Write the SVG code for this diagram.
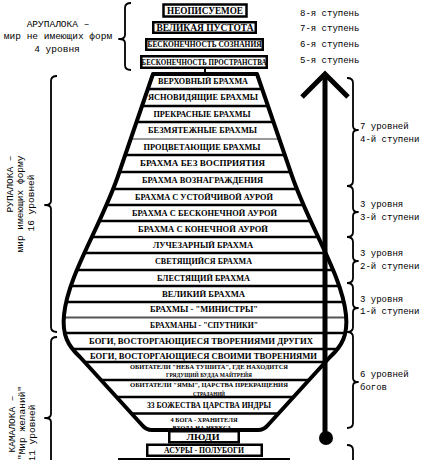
<svg xmlns="http://www.w3.org/2000/svg" width="427" height="460" viewBox="0 0 427 460">
<style>
.t{font-family:"Liberation Serif","DejaVu Serif",serif;font-weight:bold;text-anchor:middle;fill:#000}
.s{font-size:8px}
.xs{font-size:6.8px}
.m{font-family:"Liberation Mono","DejaVu Sans Mono",monospace;font-size:9.5px;fill:#000}
.r{font-size:9px}
.mc{text-anchor:middle}
.ln{stroke:#000;stroke-width:2.5}
.br{fill:none;stroke:#000;stroke-width:1.8;stroke-linejoin:round}
.box{fill:#fff;stroke:#000;stroke-width:2.5}
.vase{fill:none;stroke:#000;stroke-width:4;stroke-linejoin:round}
</style>
<defs>
<path id="vasepath" d="M153,74 L118,176 C100,228 68,275 64,315 C62,335 68,346 80,357 L142,425 Q146,430 152,430 L258,430 Q264,430 268,425 L330,357 C342,346 348,335 346,315 C342,275 310,228 292,176 L257,74 Z"/>
<clipPath id="vclip"><use href="#vasepath"/></clipPath>
</defs>
<rect width="427" height="460" fill="#fff"/>

<g id="arupaloka">
<g id="n-neopisuemoe"><rect class="box" x="163.5" y="4.5" width="83" height="12"/><text class="t" x="205" y="14" font-size="10" textLength="76" lengthAdjust="spacingAndGlyphs">НЕОПИСУЕМОЕ</text></g>
<g id="n-velikaya-pustota"><rect class="box" x="153.25" y="22.25" width="102.5" height="10.5"/><text class="t" x="205" y="31" font-size="9.5" textLength="97" lengthAdjust="spacingAndGlyphs">ВЕЛИКАЯ ПУСТОТА</text></g>
<g id="n-soznanie"><rect class="box" x="146.25" y="39.25" width="116.5" height="10.5"/><text class="t s" x="204.5" y="47.4" textLength="114" lengthAdjust="spacingAndGlyphs">БЕСКОНЕЧНОСТЬ СОЗНАНИЯ</text></g>
<g id="n-prostranstvo"><rect class="box" x="141.25" y="56.25" width="125.5" height="11.5"/><text class="t s" x="204" y="64.8" textLength="125" lengthAdjust="spacingAndGlyphs">БЕСКОНЕЧНОСТЬ ПРОСТРАНСТВА</text></g>
</g>

<g id="rupaloka-kamaloka">
<g id="rows-text">
<text class="t s" x="203" y="84.4" textLength="90" lengthAdjust="spacingAndGlyphs">ВЕРХОВНЫЙ БРАХМА</text>
<text class="t s" x="203" y="100.4" textLength="110" lengthAdjust="spacingAndGlyphs">ЯСНОВИДЯЩИЕ БРАХМЫ</text>
<text class="t s" x="202" y="116.9" textLength="97" lengthAdjust="spacingAndGlyphs">ПРЕКРАСНЫЕ БРАХМЫ</text>
<text class="t s" x="202.5" y="133.4" textLength="109" lengthAdjust="spacingAndGlyphs">БЕЗМЯТЕЖНЫЕ БРАХМЫ</text>
<text class="t s" x="202" y="149.9" textLength="117" lengthAdjust="spacingAndGlyphs">ПРОЦВЕТАЮЩИЕ БРАХМЫ</text>
<text class="t s" x="202.5" y="166.4" textLength="125" lengthAdjust="spacingAndGlyphs">БРАХМА БЕЗ ВОСПРИЯТИЯ</text>
<text class="t s" x="202.5" y="183.4" textLength="121" lengthAdjust="spacingAndGlyphs">БРАХМА ВОЗНАГРАЖДЕНИЯ</text>
<text class="t s" x="204" y="199.9" textLength="138" lengthAdjust="spacingAndGlyphs">БРАХМА С УСТОЙЧИВОЙ АУРОЙ</text>
<text class="t s" x="204.5" y="215.9" textLength="145" lengthAdjust="spacingAndGlyphs">БРАХМА С БЕСКОНЕЧНОЙ АУРОЙ</text>
<text class="t s" x="203" y="231.9" textLength="130" lengthAdjust="spacingAndGlyphs">БРАХМА С КОНЕЧНОЙ АУРОЙ</text>
<text class="t s" x="203" y="247.9" textLength="100" lengthAdjust="spacingAndGlyphs">ЛУЧЕЗАРНЫЙ БРАХМА</text>
<text class="t s" x="203.5" y="264.4" textLength="97" lengthAdjust="spacingAndGlyphs">СВЕТЯЩИЙСЯ БРАХМА</text>
<text class="t s" x="203.5" y="280.9" textLength="93" lengthAdjust="spacingAndGlyphs">БЛЕСТЯЩИЙ БРАХМА</text>
<text class="t s" x="203.5" y="296.9" textLength="83" lengthAdjust="spacingAndGlyphs">ВЕЛИКИЙ БРАХМА</text>
<text class="t s" x="204" y="312.4" textLength="108" lengthAdjust="spacingAndGlyphs">БРАХМЫ - "МИНИСТРЫ"</text>
<text class="t s" x="204" y="327.9" textLength="108" lengthAdjust="spacingAndGlyphs">БРАХМАНЫ - "СПУТНИКИ"</text>
<text class="t s" x="201" y="343.9" textLength="224" lengthAdjust="spacingAndGlyphs">БОГИ, ВОСТОРГАЮЩИЕСЯ ТВОРЕНИЯМИ ДРУГИХ</text>
<text class="t s" x="203.5" y="358.9" textLength="227" lengthAdjust="spacingAndGlyphs">БОГИ, ВОСТОРГАЮЩИЕСЯ СВОИМИ ТВОРЕНИЯМИ</text>
<text class="t xs" x="209" y="368.5" textLength="158" lengthAdjust="spacingAndGlyphs">ОБИТАТЕЛИ "НЕБА ТУШИТА", ГДЕ НАХОДИТСЯ</text>
<text class="t xs" x="209" y="377" textLength="86" lengthAdjust="spacingAndGlyphs">ГРЯДУЩИЙ БУДДА МАЙТРЕЙЯ</text>
<text class="t xs" x="209" y="387" textLength="158" lengthAdjust="spacingAndGlyphs">ОБИТАТЕЛИ "ЯМЫ", ЦАРСТВА ПРЕКРАЩЕНИЯ</text>
<text class="t xs" x="209" y="395.5" textLength="32" lengthAdjust="spacingAndGlyphs">СТРАДАНИЙ</text>
<text class="t s" x="209" y="408.4" textLength="124" lengthAdjust="spacingAndGlyphs">33 БОЖЕСТВА ЦАРСТВА ИНДРЫ</text>
<text class="t xs" x="204" y="421.5" textLength="67" lengthAdjust="spacingAndGlyphs">4 БОГА - ХРАНИТЕЛЯ</text>
<text class="t xs" x="202" y="429.5" textLength="59" lengthAdjust="spacingAndGlyphs">ВХОДА НА НЕБЕСА</text>
</g>
<g id="rows-lines" clip-path="url(#vclip)">
<path class="ln" d="M40,89H370M40,106H370M40,122H370M40,155H370M40,172H370M40,189H370M40,205H370M40,221H370M40,237H370M40,253H370M40,270H370M40,286H370M40,302H370M40,333H370M40,349H370M40,362H370M40,380H370M40,397H370M40,413.5H370"/>
<path d="M40,139H370" stroke="#777" stroke-width="1.3"/>
<path d="M40,317.5H370" stroke="#555" stroke-width="2.2"/>
</g>
<use href="#vasepath" class="vase"/>
</g>

<g id="n-lyudi"><rect class="box" x="169.25" y="431.25" width="69.5" height="11"/><text class="t" x="203" y="440" font-size="9" textLength="33" lengthAdjust="spacingAndGlyphs">ЛЮДИ</text></g>
<g id="n-asury"><rect class="box" x="147.25" y="444.75" width="114.5" height="11"/><text class="t s" x="204" y="453.4" textLength="80" lengthAdjust="spacingAndGlyphs">АСУРЫ - ПОЛУБОГИ</text></g>
<g id="n-bottom"><path d="M118,459.5H290" stroke="#000" stroke-width="3"/></g>

<g id="connectors">
<path d="M205,68V75" stroke="#000" stroke-width="2"/>
<path d="M325,77V438" stroke="#000" stroke-width="5"/>
<polyline points="302,97 325,74 348,97" fill="none" stroke="#000" stroke-width="5" stroke-linejoin="miter"/>
<circle cx="326" cy="438" r="7" fill="#000"/>
</g>

<g id="braces">
<path class="br" d="M131,3 Q125,3 125,8 L125,35 Q125,39 119,39 Q125,39 125,43 L125,65 Q125,70 131,70"/>
<path class="br" d="M57,76 Q51,76 51,81 L51,201 Q51,205 45,205 Q51,205 51,209 L51,327 Q51,332 57,332"/>
<path class="br" d="M57,337 Q51,337 51,342 L51,414 Q51,418 45,418 Q51,418 51,422 L51,470"/>
<path class="br" d="M347,78 Q353,78 353,83 L353,126 Q353,130 358,130 Q353,130 353,134 L353,181 Q353,186 347,186"/>
<path class="br" d="M347,186 Q353,186 353,191 L353,208 Q353,212 358,212 Q353,212 353,216 L353,232 Q353,237 347,237"/>
<path class="br" d="M347,237 Q353,237 353,242 L353,257 Q353,261 358,261 Q353,261 353,265 L353,278 Q353,283 347,283"/>
<path class="br" d="M347,283 Q353,283 353,288 L353,304 Q353,308 358,308 Q353,308 353,312 L353,327 Q353,332 347,332"/>
<path class="br" d="M347,332 Q353,332 353,337 L353,378 Q353,382 358,382 Q353,382 353,386 L353,423 Q353,428 347,428"/>
<path class="br" d="M347,445 Q353,445 353,450 L353,470"/>
</g>

<g id="labels">
<text class="m mc" x="58" y="27">АРУПАЛОКА –</text>
<text class="m mc" x="58" y="39">мир не имеющих форм</text>
<text class="m mc" x="57" y="51.5">4 уровня</text>
<text class="m mc" transform="translate(13,184) rotate(-90)">РУПАЛОКА –</text>
<text class="m mc" transform="translate(23,204) rotate(-90)">мир имеющих форму</text>
<text class="m mc" transform="translate(34,203) rotate(-90)">16 уровней</text>
<text class="m mc" transform="translate(15,424) rotate(-90)">КАМАЛОКА –</text>
<text class="m mc" transform="translate(25,423) rotate(-90)">"Мир желаний"</text>
<text class="m mc" transform="translate(35,433) rotate(-90)">11 уровней</text>
<text class="m r" x="300" y="16">8-я ступень</text>
<text class="m r" x="300" y="30.5">7-я ступень</text>
<text class="m r" x="300" y="46.5">6-я ступень</text>
<text class="m r" x="300" y="62.5">5-я ступень</text>
<text class="m r" x="360" y="129">7 уровней</text>
<text class="m r" x="360" y="142">4-й ступени</text>
<text class="m r" x="360" y="207">3 уровня</text>
<text class="m r" x="360" y="220">3-й ступени</text>
<text class="m r" x="360" y="256">3 уровня</text>
<text class="m r" x="360" y="269">2-й ступени</text>
<text class="m r" x="360" y="302">3 уровня</text>
<text class="m r" x="360" y="314">1-й ступени</text>
<text class="m r" x="360" y="377">6 уровней</text>
<text class="m r" x="360" y="390">богов</text>
</g>
</svg>
